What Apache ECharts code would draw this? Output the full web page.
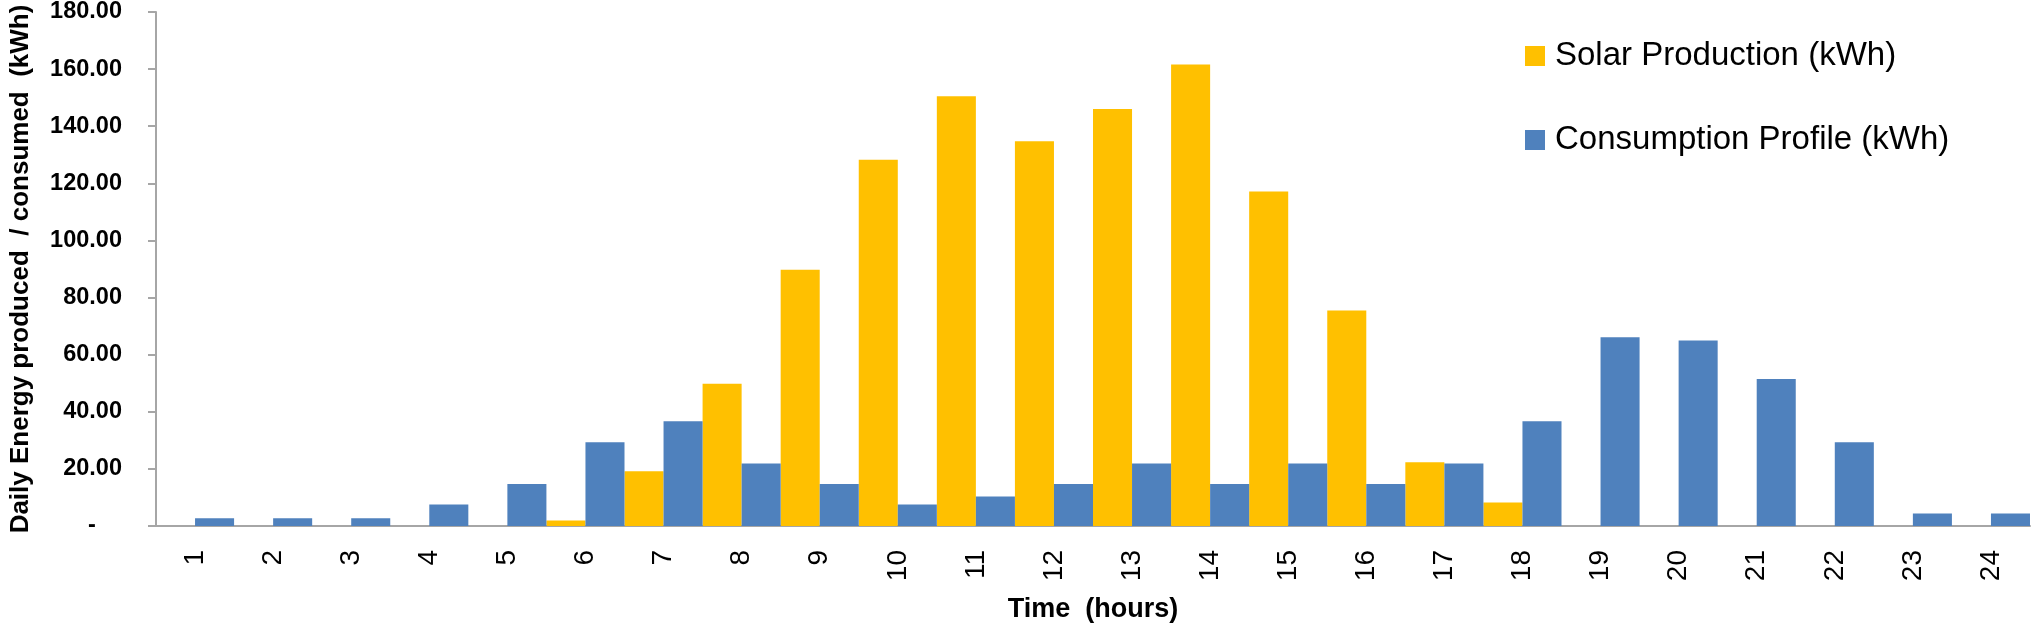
<!DOCTYPE html>
<html>
<head>
<meta charset="utf-8">
<script src="https://cdn.jsdelivr.net/npm/echarts@6/dist/echarts.min.js"></script>
<style>
html,body{margin:0;padding:0;background:#fff;}
#chart{width:2032px;height:628px;}
</style>
</head>
<body>
<div id="chart"></div>
<script>
const hours = ['1','2','3','4','5','6','7','8','9','10','11','12','13','14','15','16','17','18','19','20','21','22','23','24'];
const solarProduction = [0,0,0,0,0,1.9,19.2,49.8,89.7,128.3,150.5,134.7,146.0,161.6,117.1,75.5,22.3,8.2,0,0,0,0,0,0];
const consumptionProfile = [2.7,2.7,2.7,7.5,14.7,29.3,36.7,21.9,14.7,7.5,10.3,14.7,21.9,14.7,21.9,14.7,21.9,36.7,66.1,65.0,51.5,29.3,4.4,4.4];
const yTicks = {min: 0, max: 180, interval: 20};

const FONT = 'Liberation Sans';
const chart = echarts.init(document.getElementById('chart'));
chart.setOption({
  animation: false,
  textStyle: {fontFamily: FONT},
  grid: {left: 150, right: 2, top: 10, bottom: 99, containLabel: false},
  legend: {
    orient: 'vertical',
    left: 1525,
    top: 36,
    padding: 0,
    itemWidth: 20,
    itemHeight: 20,
    itemGap: 44,
    icon: 'rect',
    textStyle: {fontFamily: FONT, fontSize: 33, color: '#000', lineHeight: 40, padding: [0,0,0,5]},
    data: ['Solar Production (kWh)', 'Consumption Profile (kWh)']
  },
  xAxis: {
    type: 'category',
    data: hours,
    name: 'Time  (hours)',
    nameLocation: 'middle',
    nameGap: 70,
    nameTextStyle: {fontFamily: FONT, fontSize: 27, fontWeight: 'bold', color: '#000'},
    axisLine: {show: true, lineStyle: {color: '#a6a6a6', width: 2}},
    axisTick: {show: false},
    axisLabel: {rotate: 90, margin: 24, fontFamily: FONT, fontSize: 28, color: '#000'},
    splitLine: {show: false}
  },
  yAxis: {
    type: 'value',
    min: yTicks.min,
    max: yTicks.max,
    interval: yTicks.interval,
    name: 'Daily Energy produced  / consumed  (kWh)',
    nameLocation: 'middle',
    nameGap: 122,
    nameTextStyle: {fontFamily: FONT, fontSize: 26, fontWeight: 'bold', color: '#000'},
    axisLine: {show: true, lineStyle: {color: '#a6a6a6', width: 2}},
    axisTick: {show: true, length: 8, lineStyle: {color: '#a6a6a6', width: 2}},
    axisLabel: {
      margin: 34,
      fontFamily: FONT, fontSize: 23.5, fontWeight: 'bold', color: '#000',
      formatter: v => v === 0 ? '-    ' : v.toFixed(2)
    },
    splitLine: {show: false}
  },
  series: [
    {
      name: 'Solar Production (kWh)',
      type: 'bar',
      data: solarProduction,
      barGap: '0%',
      barCategoryGap: '0%',
      itemStyle: {color: '#FFC000'}
    },
    {
      name: 'Consumption Profile (kWh)',
      type: 'bar',
      data: consumptionProfile,
      barGap: '0%',
      barCategoryGap: '0%',
      itemStyle: {color: '#4F81BD'}
    }
  ]
});
</script>
</body>
</html>
